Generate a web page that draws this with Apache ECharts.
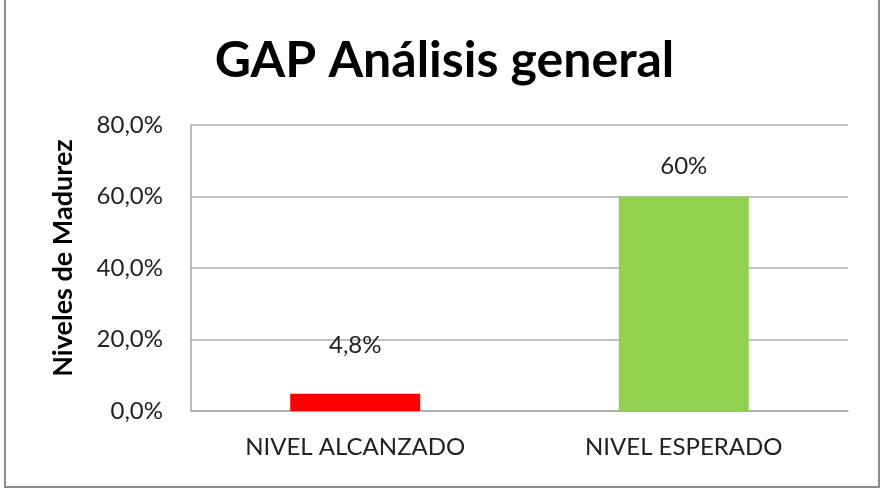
<!DOCTYPE html>
<html>
<head>
<meta charset="utf-8">
<script src="https://cdn.jsdelivr.net/npm/echarts@6/dist/echarts.min.js"></script>
<style>
  html, body { margin: 0; padding: 0; background: #fff; }
  .frame {
    position: absolute;
    left: 4px; top: -3px;
    width: 872px; height: 487px;
    border: 2px solid #8c8c8c;
  }
  #main { position: absolute; left: 0; top: 0; width: 889px; height: 489px; }
</style>
</head>
<body>
<div class="frame"></div>
<div id="main"></div>
<script>
// datos del grafico
var categorias = ['NIVEL ALCANZADO', 'NIVEL ESPERADO'];
var valores = [4.8, 60];
var etiquetas = ['4,8%', '60%'];
var colores = ['#ff0000', '#92d050'];
var distancias = [37, 18];

var myChart = echarts.init(document.getElementById('main'), null, { renderer: 'canvas' });

var datos = valores.map(function (v, i) {
  return {
    value: v,
    itemStyle: { color: colores[i] },
    label: { formatter: etiquetas[i], distance: distancias[i] }
  };
});

myChart.setOption({
  animation: false,
  title: {
    text: 'GAP Análisis general',
    left: 'center',
    top: 31,
    textStyle: {
      fontFamily: 'Lato',
      fontWeight: 'bold',
      fontSize: 50,
      color: '#000'
    }
  },
  grid: {
    left: 191,
    right: 41,
    top: 125,
    bottom: 78,
    containLabel: false
  },
  xAxis: {
    type: 'category',
    data: categorias,
    axisLine: { show: true, lineStyle: { color: '#a6a6a6', width: 1.5 } },
    axisTick: { show: false },
    axisLabel: {
      fontFamily: 'Lato',
      fontSize: 24,
      color: '#222',
      margin: 24
    }
  },
  yAxis: {
    type: 'value',
    min: 0,
    max: 80,
    interval: 20,
    name: 'Niveles de Madurez',
    nameLocation: 'middle',
    nameRotate: 90,
    nameGap: 114,
    nameTextStyle: {
      fontFamily: 'Lato',
      fontWeight: 'bold',
      fontSize: 27,
      color: '#000',
      padding: [0, 0, 0, 20]
    },
    axisLine: { show: true, lineStyle: { color: '#a6a6a6', width: 1.5 } },
    axisTick: { show: false },
    splitLine: { lineStyle: { color: '#b0b0b0', width: 1.5 } },
    axisLabel: {
      fontFamily: 'Lato',
      fontSize: 24,
      color: '#222',
      margin: 28,
      formatter: function (v) { return v.toFixed(1).replace('.', ',') + '%'; }
    }
  },
  series: [{
    type: 'bar',
    data: datos,
    barWidth: 130,
    label: {
      show: true,
      position: 'top',
      fontFamily: 'Lato',
      fontSize: 24,
      color: '#222'
    }
  }]
});
</script>
</body>
</html>
